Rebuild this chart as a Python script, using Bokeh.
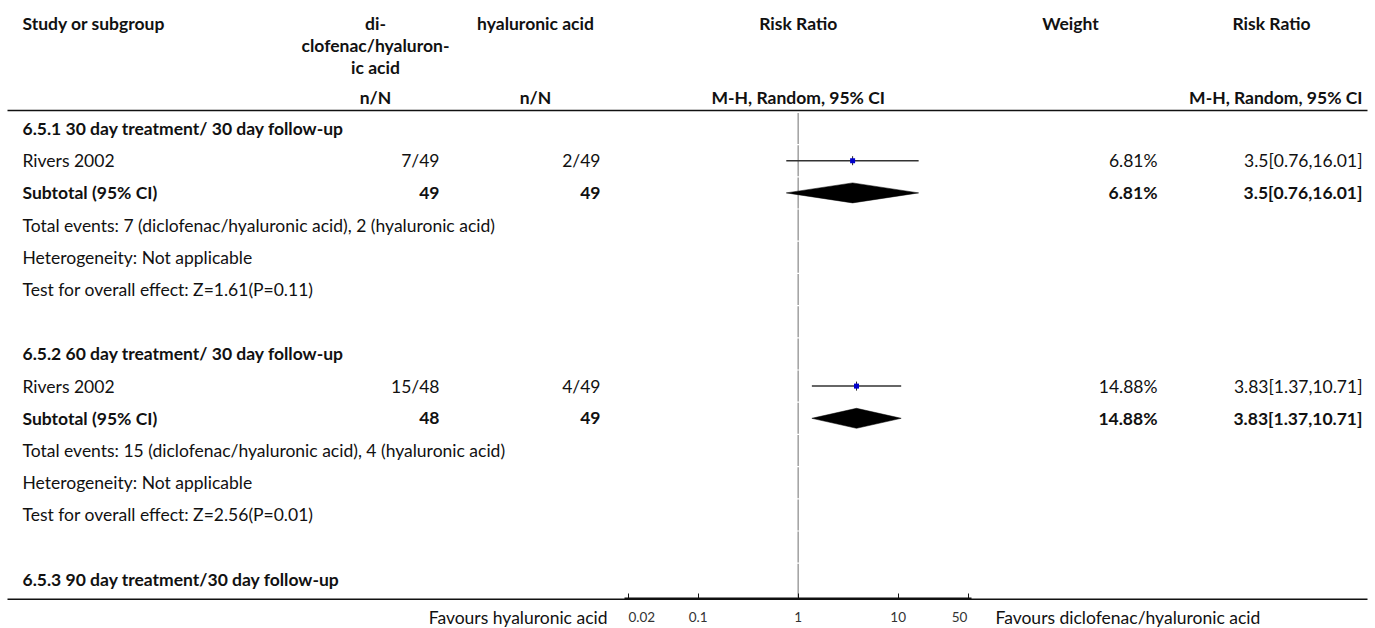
from bokeh.plotting import figure
from bokeh.models import (Range1d, LogScale, LogAxis, FixedTicker,
                          ColumnDataSource)
from bokeh.embed import file_html
from bokeh.resources import INLINE
from bokeh.core.properties import value

FONT = "Lato"
FS = "17.5px"

# ---------------- data ----------------
subgroups = ["6.5.1 30 day treatment/ 30 day follow-up",
             "6.5.2 60 day treatment/ 30 day follow-up",
             "6.5.3 90 day treatment/30 day follow-up"]
studies = ["Rivers 2002", "Rivers 2002"]
exp_events = [7, 15]
exp_total = [49, 48]
ctl_events = [2, 4]
ctl_total = [49, 49]
rr_est = [3.5, 3.83]
rr_lo = [0.76, 1.37]
rr_hi = [16.01, 10.71]
weights = [6.81, 14.88]
z_vals = ["1.61", "2.56"]
p_vals = ["0.11", "0.01"]
exp_name = "diclofenac/hyaluronic acid"
ctl_name = "hyaluronic acid"
ticks = [0.02, 0.1, 1, 10, 50]
tick_labels = ["0.02", "0.1", "1", "10", "50"]
fav_left = "Favours hyaluronic acid"
fav_right = "Favours diclofenac/hyaluronic acid"

# ---------------- layout (pixel coordinates) ----------------
W = 1375
H = 628
AXIS_Y = 598.3    # position of the risk-ratio axis line
ROW0 = 128
DY = 32.2
HEAD_LINE = 110
LINE_X0, LINE_X1 = 7, 1367


def row_y(i):
    return ROW0 + DY * i


X_STUDY = 22
X_EXP_C = 375
X_EXP_R = 439
X_CTL_C = 535
X_CTL_R = 600
X_RR_C = 797.7
X_W_C = 1070
X_W_R = 1157
X_RRT_C = 1271
X_RRT_R = 1362

# log mapping of the plot column: px = PX1 + DEC*log10(v)
PX1 = 797.7
DEC = 100.0
lstart = 10 ** ((0 - PX1) / DEC)
lend = 10 ** ((W - PX1) / DEC)

p = figure(width=W, frame_height=H, output_backend="svg", toolbar_location=None,
           x_range=Range1d(0, W), y_range=Range1d(H, 0),
           x_axis_location=None, y_axis_location=None,
           min_border=0, min_border_left=0, min_border_right=0,
           min_border_top=0, min_border_bottom=0)
p.extra_x_ranges = {"rr": Range1d(lstart, lend)}
p.extra_x_scales = {"rr": LogScale()}
p.outline_line_color = None
p.xgrid.visible = False
p.ygrid.visible = False
p.background_fill_color = "white"
p.border_fill_color = "white"

texts = {k: dict(x=[], y=[], t=[]) for k in ["nl", "nr", "bl", "br", "bc"]}


def add(kind, x, y, t):
    texts[kind]["x"].append(x)
    texts[kind]["y"].append(y)
    texts[kind]["t"].append(t)


# headers
H1, H2, H3, H4 = 23, 45, 67, 97
add("bl", X_STUDY, H1, "Study or subgroup")
add("bc", X_EXP_C, H1, "di-")
add("bc", X_EXP_C, H2, "clofenac/hyaluron-")
add("bc", X_EXP_C, H3, "ic acid")
add("bc", X_EXP_C, H4, "n/N")
add("bc", X_CTL_C, H1, ctl_name)
add("bc", X_CTL_C, H4, "n/N")
add("bc", X_RR_C, H1, "Risk Ratio")
add("bc", X_RR_C, H4, "M-H, Random, 95% CI")
add("bc", X_W_C, H1, "Weight")
add("bc", X_RRT_C, H1, "Risk Ratio")
add("br", X_RRT_R, H4, "M-H, Random, 95% CI")

group_rows = [0, 7, 14]
for g, name in enumerate(subgroups):
    add("bl", X_STUDY, row_y(group_rows[g]), name)

study_y, sub_y = [], []
for g in range(len(studies)):
    r = group_rows[g]
    ys, yt = row_y(r + 1), row_y(r + 2)
    study_y.append(ys)
    sub_y.append(yt)
    rrtxt = f"{rr_est[g]}[{rr_lo[g]},{rr_hi[g]}]"
    wtxt = f"{weights[g]:.2f}%"
    add("nl", X_STUDY, ys, studies[g])
    add("nr", X_EXP_R, ys, f"{exp_events[g]}/{exp_total[g]}")
    add("nr", X_CTL_R, ys, f"{ctl_events[g]}/{ctl_total[g]}")
    add("nr", X_W_R, ys, wtxt)
    add("nr", X_RRT_R, ys, rrtxt)
    add("bl", X_STUDY, yt, "Subtotal (95% CI)")
    add("br", X_EXP_R, yt, str(exp_total[g]))
    add("br", X_CTL_R, yt, str(ctl_total[g]))
    add("br", X_W_R, yt, wtxt)
    add("br", X_RRT_R, yt, rrtxt)
    add("nl", X_STUDY, row_y(r + 3),
        f"Total events: {exp_events[g]} ({exp_name}), {ctl_events[g]} ({ctl_name})")
    add("nl", X_STUDY, row_y(r + 4), "Heterogeneity: Not applicable")
    add("nl", X_STUDY, row_y(r + 5),
        f"Test for overall effect: Z={z_vals[g]}(P={p_vals[g]})")

# "favours" captions under the axis
FAV_Y = 617
add("nr", 607, FAV_Y, fav_left)
add("nl", 995, FAV_Y, fav_right)

styles = {"nl": ("normal", "left"), "nr": ("normal", "right"),
          "bl": ("bold", "left"), "br": ("bold", "right"), "bc": ("bold", "center")}
for k, d in texts.items():
    if not d["x"]:
        continue
    fs, al = styles[k]
    p.text(x="x", y="y", text="t", source=ColumnDataSource(d),
           text_font=value(FONT), text_font_size=FS, text_font_style=fs,
           text_align=al, text_baseline="middle", text_color="#111111")

# horizontal rules
p.segment(x0=[LINE_X0, LINE_X0], x1=[LINE_X1, LINE_X1], y0=[HEAD_LINE, AXIS_Y + 0.4],
          y1=[HEAD_LINE, AXIS_Y + 0.4], line_color="#111111", line_width=1.6)

# null line (one piece per table row, small gaps between rows)
n_rows = group_rows[-1] + 1
nl_y0 = [max(HEAD_LINE + 1, row_y(i) - DY / 2 + 0.6) for i in range(n_rows)]
nl_y1 = [row_y(i) + DY / 2 - 0.6 for i in range(n_rows)]
nl_y1[-1] = AXIS_Y - 1
p.segment(x0=[1] * n_rows, x1=[1] * n_rows, y0=nl_y0, y1=nl_y1, x_range_name="rr",
          line_color="#a6a6a6", line_width=1.6)

# study CIs and points
p.segment(x0=rr_lo, x1=rr_hi, y0=study_y, y1=study_y, x_range_name="rr",
          line_color="#333333", line_width=1.5)
p.segment(x0=rr_est, x1=rr_est, y0=[y - 4.5 for y in study_y],
          y1=[y + 4.5 for y in study_y],
          x_range_name="rr", line_color="#222222", line_width=1)
p.scatter(x=rr_est, y=study_y, marker="square", size=5, x_range_name="rr",
          fill_color="#0000cc", line_color=None)

# diamonds
xs = [[rr_lo[g], rr_est[g], rr_hi[g], rr_est[g]] for g in range(len(rr_est))]
ys = [[y, y - 10, y, y + 10] for y in sub_y]
p.patches(xs=xs, ys=ys, x_range_name="rr", fill_color="black", line_color="black",
          line_width=0.5)

# risk-ratio axis (line + tick marks), drawn at a fixed position inside the frame
ax = LogAxis(x_range_name="rr", ticker=FixedTicker(ticks=ticks),
             bounds=(ticks[0] / 1.08, ticks[-1] * 1.07), fixed_location=AXIS_Y)
ax.axis_line_width = 2
ax.axis_line_color = "#111111"
ax.major_tick_in = 5
ax.major_tick_out = 0
ax.major_tick_line_color = "#111111"
ax.minor_tick_line_color = None
ax.major_label_text_color = None
p.add_layout(ax, "below")

# tick labels: the outermost labels are kept inside the axis span
shift_px = [13.5] + [0.0] * (len(ticks) - 2) + [-8.5]
label_pos = [t * 10 ** (s / DEC) for t, s in zip(ticks, shift_px)]
lab = LogAxis(x_range_name="rr", ticker=FixedTicker(ticks=label_pos),
              fixed_location=AXIS_Y)
lab.major_label_overrides = {t: l for t, l in zip(label_pos, tick_labels)}
lab.axis_line_color = None
lab.major_tick_line_color = None
lab.minor_tick_line_color = None
lab.major_label_standoff = 7
lab.major_label_text_font = FONT
lab.major_label_text_font_size = "13.5px"
lab.major_label_text_color = "#333333"
p.add_layout(lab, "below")

open("out.html", "w").write(file_html(p, INLINE))
